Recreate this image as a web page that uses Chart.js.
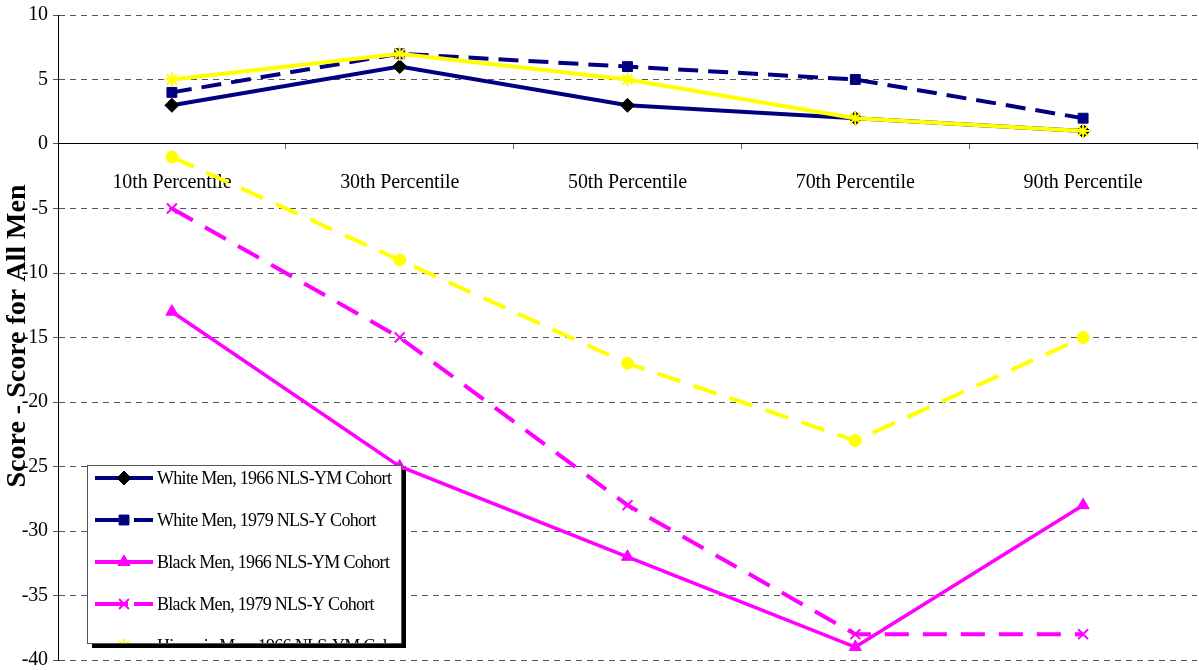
<!DOCTYPE html>
<html><head><meta charset="utf-8">
<script src="https://cdn.jsdelivr.net/npm/chart.js@4/dist/chart.umd.min.js"></script>
<style>html,body{margin:0;padding:0;overflow:hidden;background:#fff;width:1199px;height:670px}canvas{display:block;margin-top:-2px}</style>
</head><body><canvas id="c" width="1206" height="679"></canvas>
<script>
const categories = ['10th Percentile','30th Percentile','50th Percentile','70th Percentile','90th Percentile'];
const whiteMen1966 = [3, 6, 3, 2, 1];
const whiteMen1979 = [4, 7, 6, 5, 2];
const blackMen1966 = [-13, -25, -32, -39, -28];
const blackMen1979 = [-5, -15, -28, -38, -38];
const hispanicMen1966 = [5, 7, 5, 2, 1];
const hispanicMen1979 = [-1, -9, -17, -23, -15];
const seriesNames = ['White Men, 1966 NLS-YM Cohort','White Men, 1979 NLS-Y Cohort','Black Men, 1966 NLS-YM Cohort','Black Men, 1979 NLS-Y Cohort','Hispanic Men, 1966 NLS-YM Cohort','Hispanic Men, 1979 NLS-Y Cohort'];
const yMin = -40, yMax = 10, yStep = 5;
const yTitle = 'Score - Score for All Men';

const NAVY = '#000080', MAG = '#FF00FF', YEL = '#FFFF00';
const SERIF = '"Liberation Serif","Times New Roman",serif';

function ds(label, data, color, width, dash, style, radius, bg, border, bw, order) {
  return {label, data, borderColor: color, borderWidth: width, borderDash: dash,
    pointStyle: style, pointRadius: radius, pointHoverRadius: radius,
    pointBackgroundColor: bg, pointBorderColor: border, pointBorderWidth: bw,
    tension: 0, fill: false, order};
}
const datasets = [
  ds(seriesNames[0], whiteMen1966, NAVY, 4, [], 'rectRot', 7, '#000', '#000', 1, 3),
  ds(seriesNames[1], whiteMen1979, NAVY, 4, [20, 10], 'rect', 7, NAVY, NAVY, 1, 2),
  ds(seriesNames[2], blackMen1966, MAG, 3.5, [], 'triangle', 7, MAG, MAG, 1, 5),
  ds(seriesNames[3], blackMen1979, MAG, 4, [24, 14], 'crossRot', 7, MAG, MAG, 2, 4),
  ds(seriesNames[4], hispanicMen1966, YEL, 4, [], 'star', 7, YEL, YEL, 2, 0),
  ds(seriesNames[5], hispanicMen1979, YEL, 4, [24, 14], 'circle', 6, YEL, YEL, 1, 1)
];

const spacingPlugin = {
  id: 'spacing',
  beforeDraw(chart) { chart.ctx.letterSpacing = '-0.1px'; },
  afterDraw(chart) { chart.ctx.letterSpacing = '0px'; }
};

const extrasPlugin = {
  id: 'extras',
  afterDraw(chart) {
    const ctx = chart.ctx;
    const oy = 2; // canvas is shifted up by 2px on the page
    ctx.save();
    ctx.letterSpacing = '0px';
    ctx.translate(18, 336 + oy);
    ctx.rotate(-Math.PI / 2);
    ctx.font = 'bold 28px ' + SERIF;
    ctx.fillStyle = '#000';
    ctx.textAlign = 'center';
    ctx.textBaseline = 'middle';
    ctx.fillText(yTitle, 0, 0);
    ctx.restore();

    const bx = 87, by = 465 + oy, bw = 314, bh = 178;
    ctx.save();
    ctx.fillStyle = '#000';
    ctx.fillRect(bx + 5, by + 5, bw, bh);
    ctx.fillStyle = '#fff';
    ctx.fillRect(bx, by, bw, bh);
    ctx.strokeStyle = '#555';
    ctx.lineWidth = 1;
    ctx.strokeRect(bx + 0.5, by + 0.5, bw, bh);
    ctx.beginPath();
    ctx.rect(bx + 1, by + 1, bw - 1, bh - 1);
    ctx.clip();
    chart.data.datasets.forEach((d, i) => {
      const y = by + 13 + i * 42;
      ctx.save();
      ctx.strokeStyle = d.borderColor;
      ctx.lineWidth = 4;
      ctx.setLineDash(d.borderDash.length ? [33, 6] : []);
      ctx.beginPath();
      ctx.moveTo(95, y);
      ctx.lineTo(153, y);
      ctx.stroke();
      ctx.setLineDash([]);
      ctx.fillStyle = d.pointBackgroundColor;
      ctx.strokeStyle = d.pointBorderColor;
      ctx.lineWidth = d.pointBorderWidth;
      Chart.helpers.drawPoint(ctx, {pointStyle: d.pointStyle, rotation: 0, radius: d.pointRadius, borderWidth: d.pointBorderWidth}, 124, y);
      ctx.restore();
      ctx.fillStyle = '#000';
      ctx.font = '18px ' + SERIF;
      ctx.letterSpacing = '-0.7px';
      ctx.textAlign = 'left';
      ctx.textBaseline = 'middle';
      ctx.fillText(d.label, 157, y + 1);
    });
    ctx.restore();
  }
};

new Chart(document.getElementById('c'), {
  type: 'line',
  data: {labels: categories, datasets},
  plugins: [spacingPlugin, extrasPlugin],
  options: {
    responsive: false,
    animation: false,
    events: [],
    layout: {padding: {top: 12, bottom: 5, left: 0, right: 0}},
    plugins: {legend: {display: false}, tooltip: {enabled: false}},
    scales: {
      x: {
        type: 'category',
        position: {y: 0},
        offset: true,
        grid: {display: true, drawOnChartArea: false, drawTicks: true, tickLength: 5, offset: true, color: '#666'},
        border: {display: true, color: '#000', width: 1},
        ticks: {font: {family: SERIF, size: 20}, color: '#000', padding: 22, maxRotation: 0, autoSkip: false}
      },
      y: {
        min: yMin, max: yMax,
        afterFit(scale) { scale.width = 58; },
        grid: {color: '#555', lineWidth: 1, tickLength: 5, drawTicks: true},
        border: {display: true, color: '#000', width: 1, dash: [6, 5]},
        ticks: {stepSize: yStep, font: {family: SERIF, size: 20}, color: '#000', padding: 5}
      }
    }
  }
});
</script>
</body></html>
